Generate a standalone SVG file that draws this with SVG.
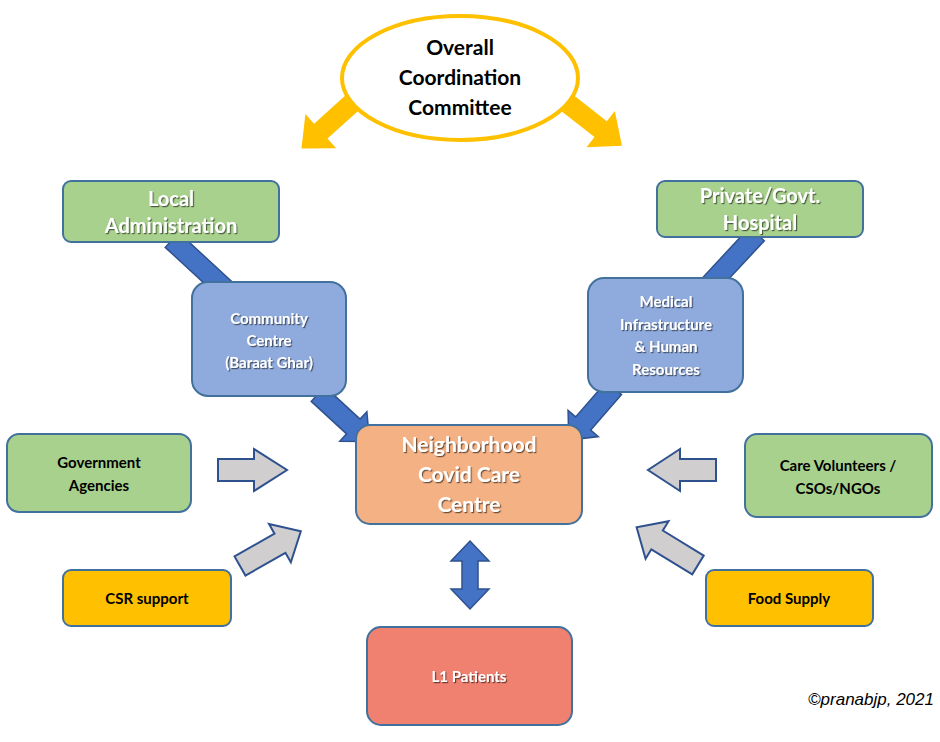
<svg xmlns="http://www.w3.org/2000/svg" width="940" height="742" viewBox="0 0 940 742">
<defs>
<filter id="sh" x="-10%" y="-10%" width="120%" height="130%"><feDropShadow dx="1.2" dy="1.2" stdDeviation="0.6" flood-color="#000" flood-opacity="0.55"/></filter>
</defs>
<style>
text{font-family:Lato,"Open Sans","Liberation Sans",sans-serif;font-weight:bold;text-anchor:middle}
.box{stroke:#41719C;stroke-width:2}
.g{fill:#A9D18E}.b{fill:#8FAADC}.y{fill:#FFC000}
.w{fill:#fff;filter:url(#sh)}
.k{fill:#000}
.ya{fill:#FFC000}
.ba{fill:#4472C4;stroke:#2F528F;stroke-width:1.5}
.ga{fill:#D0CECE;stroke:#2F528F;stroke-width:2}
</style>
<rect width="940" height="742" fill="#fff"/>
<g id="connectors">
<polygon class="ya" transform="translate(352,103) rotate(138)" points="0,-10 42,-10 42,-23 68,0 42,23 42,10 0,10"/>
<polygon class="ya" transform="translate(566,102) rotate(38)" points="0,-10 44,-10 44,-23 71,0 44,23 44,10 0,10"/>
<polygon class="ba" transform="translate(172,240) rotate(42.7)" points="0,-10 75,-10 75,10 0,10"/>
<polygon class="ba" transform="translate(318,394) rotate(42.6)" points="0,-10 48,-10 48,-20 70,0 48,20 48,10 0,10"/>
<polygon class="ba" transform="translate(757,234) rotate(133)" points="0,-10 70,-10 70,10 0,10"/>
<polygon class="ba" transform="translate(614,388) rotate(131)" points="0,-10 47,-10 47,-20 69,0 47,20 47,10 0,10"/>
<polygon class="ga" transform="translate(218,470)" points="0,-11 36,-11 36,-21 69,0 36,21 36,11 0,11"/>
<polygon class="ga" transform="translate(716,470) rotate(180)" points="0,-11 36,-11 36,-21 68,0 36,21 36,11 0,11"/>
<polygon class="ga" transform="translate(240,566) rotate(-29.7)" points="0,-11 46,-11 46,-22 70,0 46,22 46,11 0,11"/>
<polygon class="ga" transform="translate(698,565) rotate(211.5)" points="0,-11 48,-11 48,-22 72,0 48,22 48,11 0,11"/>
<polygon class="ba" points="470,541 489,561 478,561 478,589 489,589 470,609 451,589 462,589 462,561 451,561"/>
</g>
<g id="committee">
<ellipse cx="460" cy="78" rx="118" ry="62" fill="#fff" stroke="#FFC000" stroke-width="4"/>
<text class="k" x="460" y="55" font-size="21">Overall</text>
<text class="k" x="460" y="85" font-size="21">Coordination</text>
<text class="k" x="460" y="115" font-size="21">Committee</text>
</g>
<g id="local-admin">
<rect class="box g" x="63" y="181" width="216" height="61" rx="8"/>
<text class="w" x="171" y="206" font-size="20">Local</text>
<text class="w" x="171" y="233" font-size="20">Administration</text>
</g>
<g id="hospital">
<rect class="box g" x="657" y="181" width="206" height="56" rx="8"/>
<text class="w" x="760" y="203" font-size="20">Private/Govt.</text>
<text class="w" x="760" y="230" font-size="20">Hospital</text>
</g>
<g id="community">
<rect class="box b" x="192" y="282" width="154" height="114" rx="16"/>
<text class="w" x="269" y="324" font-size="15">Community</text>
<text class="w" x="269" y="346" font-size="15">Centre</text>
<text class="w" x="269" y="368" font-size="15">(Baraat Ghar)</text>
</g>
<g id="medical">
<rect class="box b" x="588" y="278" width="155" height="114" rx="16"/>
<text class="w" x="666" y="307" font-size="15">Medical</text>
<text class="w" x="666" y="330" font-size="15">Infrastructure</text>
<text class="w" x="666" y="352" font-size="15">&amp; Human</text>
<text class="w" x="666" y="375" font-size="15">Resources</text>
</g>
<g id="ncc">
<rect class="box" fill="#F4B183" x="356" y="425" width="226" height="99" rx="14"/>
<text class="w" x="469" y="452" font-size="21">Neighborhood</text>
<text class="w" x="469" y="482" font-size="21">Covid Care</text>
<text class="w" x="469" y="512" font-size="21">Centre</text>
</g>
<g id="gov">
<rect class="box g" x="7" y="434" width="184" height="78" rx="12"/>
<text class="k" x="99" y="468" font-size="15">Government</text>
<text class="k" x="99" y="491" font-size="15">Agencies</text>
</g>
<g id="care">
<rect class="box g" x="745" y="434" width="187" height="83" rx="12"/>
<text class="k" x="838" y="471" font-size="15">Care Volunteers /</text>
<text class="k" x="838" y="494" font-size="15">CSOs/NGOs</text>
</g>
<g id="csr">
<rect class="box y" x="63" y="570" width="168" height="56" rx="8"/>
<text class="k" x="147" y="604" font-size="15">CSR support</text>
</g>
<g id="food">
<rect class="box y" x="706" y="570" width="167" height="56" rx="8"/>
<text class="k" x="789" y="604" font-size="15">Food Supply</text>
</g>
<g id="l1">
<rect class="box" fill="#F08070" x="367" y="627" width="205" height="98" rx="14"/>
<text class="w" x="469" y="682" font-size="15">L1 Patients</text>
</g>
<text x="934" y="705" style="font-family:'Liberation Sans',sans-serif;font-weight:normal;font-style:italic;text-anchor:end" font-size="17" fill="#000">©pranabjp, 2021</text>
</svg>
